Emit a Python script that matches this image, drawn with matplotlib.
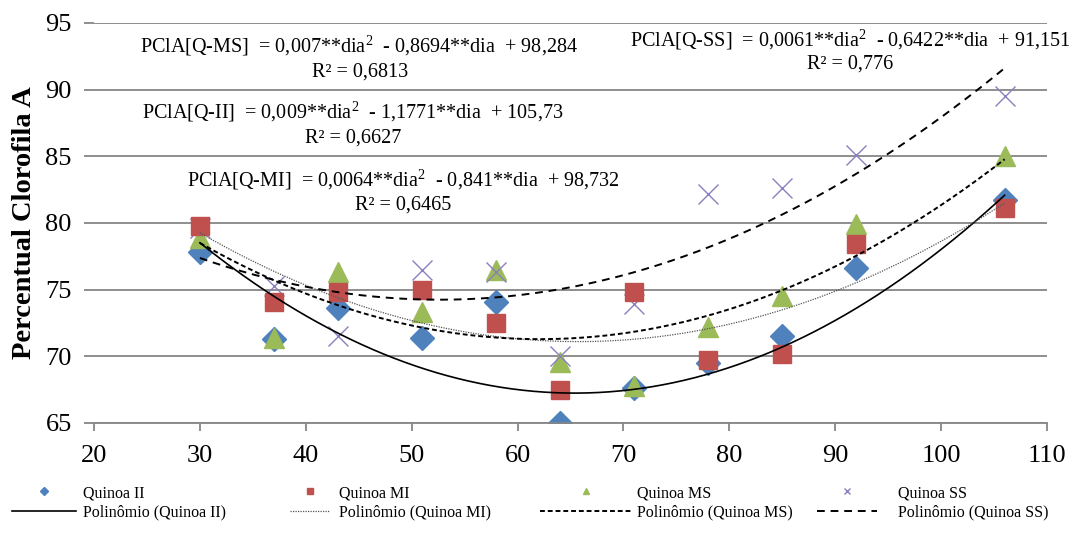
import matplotlib
matplotlib.use("Agg")
import matplotlib.pyplot as plt
import numpy as np

plt.rcParams['font.family'] = ['Liberation Serif', 'DejaVu Serif']
plt.rcParams['mathtext.fontset'] = 'custom'
plt.rcParams['mathtext.rm'] = 'Liberation Serif'
plt.rcParams['mathtext.it'] = 'Liberation Serif:italic'

# dias de avaliacao e percentual de clorofila A por tratamento
dias = [30, 37, 43, 51, 58, 64, 71, 78, 85, 92, 106]
quinoa_ii = [77.8, 71.3, 73.6, 71.4, 74.1, 65.0, 67.6, 69.5, 71.5, 76.6, 81.7]
quinoa_mi = [79.8, 74.1, 74.8, 75.0, 72.5, 67.5, 74.8, 69.7, 70.2, 78.4, 81.1]
quinoa_ms = [78.9, 71.4, 76.3, 73.3, 76.5, 69.6, 67.8, 72.2, 74.5, 79.9, 85.0]
quinoa_ss = [79.6, 75.3, 71.5, 76.5, 76.3, 70.0, 73.9, 82.2, 82.6, 85.1, 89.5]

# coeficientes das regressoes polinomiais (a*dia^2 + b*dia + c)
coef_ii = [0.009, -1.1771, 105.73]
coef_mi = [0.0064, -0.841, 98.732]
coef_ms = [0.007, -0.8694, 98.284]
coef_ss = [0.0061, -0.6422, 91.151]

W, H = 1086, 548
fig = plt.figure(figsize=(W / 100, H / 100), dpi=100)
ax = fig.add_axes([94 / W, 1 - 423 / H, (1047 - 94) / W, (423 - 23) / H])

def px(x, y):
    return x / W, 1 - y / H

grid_c = '#868686'

h_ii, = ax.plot(dias, quinoa_ii, 'D', color='#4F81BD', ms=12, ls='none', zorder=2, label='Quinoa II')
h_ms, = ax.plot(dias, quinoa_ms, '^', color='#9BBB59', ms=14, ls='none', zorder=3, label='Quinoa MS')
h_ss, = ax.plot(dias, quinoa_ss, 'x', color='#8C7FBF', ms=14, mew=1.0, ls='none', zorder=4, label='Quinoa SS')
h_mi, = ax.plot(dias, quinoa_mi, 's', color='#C0504D', ms=13, ls='none', zorder=5, label='Quinoa MI')

xs = np.linspace(min(dias), max(dias), 300)
l_ii, = ax.plot(xs, np.polyval(coef_ii, xs), color='black', lw=1.2, zorder=6,
                label='Polinômio (Quinoa II)')
l_mi, = ax.plot(xs, np.polyval(coef_mi, xs), color='#555555', lw=0.9, ls=(0, (1, 1)), zorder=6,
                label='Polinômio (Quinoa MI)')
l_ms, = ax.plot(xs, np.polyval(coef_ms, xs), color='black', lw=1.4, ls=(0, (2.5, 1.5)), zorder=6,
                label='Polinômio (Quinoa MS)')
l_ss, = ax.plot(xs, np.polyval(coef_ss, xs), color='black', lw=1.4, ls=(0, (4, 3)), zorder=6,
                label='Polinômio (Quinoa SS)')

ax.set_xlim(20, 110)
ax.set_ylim(65, 95)
ax.set_xticks(range(20, 111, 10))
ax.set_yticks(range(65, 96, 5))
ax.yaxis.grid(True, color=grid_c, lw=1.3)
ax.set_axisbelow(True)
for s in ['top', 'right', 'left']:
    ax.spines[s].set_visible(False)
ax.spines['bottom'].set_color(grid_c)
ax.spines['bottom'].set_linewidth(1.3)
ax.tick_params(axis='x', direction='out', length=6, width=1.3, color=grid_c, labelsize=19, pad=10)
ax.tick_params(axis='y', direction='out', length=7, width=1.3, color=grid_c, labelsize=19, pad=9)
ax.set_ylabel('Percentual Clorofila A', fontsize=20.5, fontweight='bold', labelpad=6)

eq_fs = 14.5
fig.text(*px(359, 46), 'PClA[Q-MS]  = 0,007**dia$^{2}$  - 0,8694**dia  + 98,284',
         fontsize=eq_fs, ha='center', va='center')
fig.text(*px(360, 72), 'R² = 0,6813', fontsize=eq_fs, ha='center', va='center')
fig.text(*px(850, 40), 'PClA[Q-SS]  = 0,0061**dia$^{2}$  - 0,6422**dia  + 91,151',
         fontsize=eq_fs, ha='center', va='center')
fig.text(*px(850, 64), 'R² = 0,776', fontsize=eq_fs, ha='center', va='center')
fig.text(*px(353, 112), 'PClA[Q-II]  = 0,009**dia$^{2}$  - 1,1771**dia  + 105,73',
         fontsize=eq_fs, ha='center', va='center')
fig.text(*px(353, 138), 'R² = 0,6627', fontsize=eq_fs, ha='center', va='center')
fig.text(*px(403, 180), 'PClA[Q-MI]  = 0,0064**dia$^{2}$  - 0,841**dia  + 98,732',
         fontsize=eq_fs, ha='center', va='center')
fig.text(*px(403, 205), 'R² = 0,6465', fontsize=eq_fs, ha='center', va='center')

# legenda em quatro blocos (marcador + linha de tendencia)
blocos = [
    (h_ii, l_ii, 12, 4.0, 0.45),
    (h_mi, l_mi, 290, 2.5, 0.55),
    (h_ms, l_ms, 540, 5.8, 0.25),
    (h_ss, l_ss, 817, 3.75, 1.3),
]
for hm, hl, x0, hlen, hpad in blocos:
    leg = fig.legend(handles=[hm, hl], labels=[hm.get_label(), hl.get_label()],
                     loc='upper left', bbox_to_anchor=px(x0, 485), frameon=False,
                     fontsize=11.5, markerscale=0.35, handlelength=hlen,
                     handletextpad=hpad, labelspacing=0.2, borderpad=0, borderaxespad=0)

fig.savefig('out.png', dpi=100)
